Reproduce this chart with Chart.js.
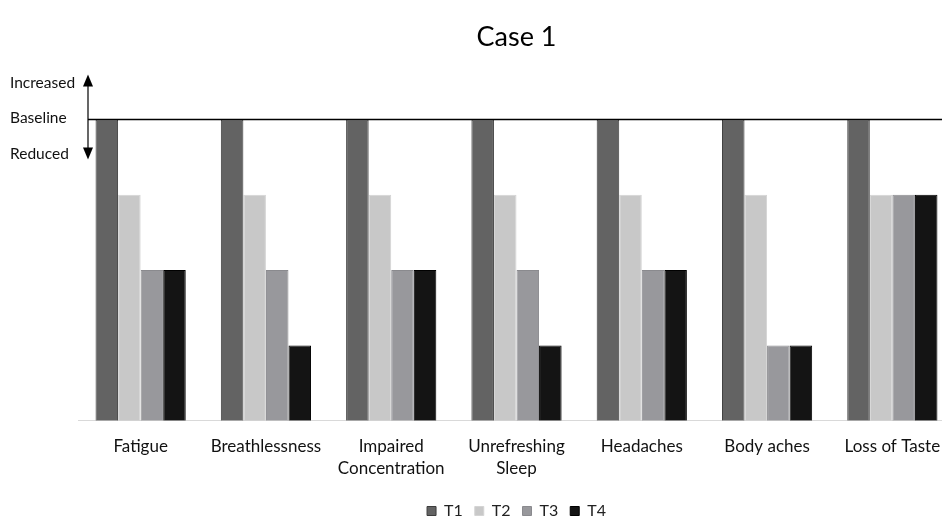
<!DOCTYPE html>
<html>
<head>
<meta charset="utf-8">
<script src="https://cdn.jsdelivr.net/npm/chart.js@4.4.0/dist/chart.umd.min.js"></script>
<style>
  html, body { margin: 0; padding: 0; background: #fff; overflow: hidden; }
  #wrap { width: 955px; height: 529px; }
</style>
</head>
<body>
<div id="wrap"><canvas id="caseChart"></canvas></div>
<script>
// symptom categories (level 4 = baseline, lower = reduced)
var symptoms = ["Fatigue", "Breathlessness", ["Impaired", "Concentration"], ["Unrefreshing", "Sleep"], "Headaches", "Body aches", "Loss of Taste"];
var t1 = [4, 4, 4, 4, 4, 4, 4];
var t2 = [3, 3, 3, 3, 3, 3, 3];
var t3 = [2, 2, 2, 2, 2, 1, 3];
var t4 = [2, 1, 2, 1, 2, 1, 3];
var baselineLevel = 4;

var fontName = "Lato, 'Open Sans', sans-serif";

// baseline line + increased/reduced arrow on the left
const baselinePlugin = {
  id: "baseline",
  afterDraw(chart) {
    const ctx = chart.ctx;
    const y = chart.scales.y.getPixelForValue(baselineLevel);
    const ax = 88;
    ctx.save();
    ctx.strokeStyle = "#000";
    ctx.lineWidth = 1.5;
    ctx.beginPath();
    ctx.moveTo(ax, y);
    ctx.lineTo(chart.chartArea.right, y);
    ctx.stroke();

    ctx.lineWidth = 1.2;
    ctx.beginPath();
    ctx.moveTo(ax, y - 36);
    ctx.lineTo(ax, y + 30);
    ctx.stroke();
    ctx.fillStyle = "#000";
    ctx.beginPath();
    ctx.moveTo(ax, y - 45);
    ctx.lineTo(ax - 5, y - 33);
    ctx.lineTo(ax + 5, y - 33);
    ctx.closePath();
    ctx.fill();
    ctx.beginPath();
    ctx.moveTo(ax, y + 40);
    ctx.lineTo(ax - 5, y + 28);
    ctx.lineTo(ax + 5, y + 28);
    ctx.closePath();
    ctx.fill();

    ctx.font = "15.5px " + fontName;
    ctx.textAlign = "left";
    ctx.textBaseline = "middle";
    ctx.fillStyle = "#111";
    ctx.fillText("Increased", 10, y - 36);
    ctx.fillText("Baseline", 10, y - 1);
    ctx.fillText("Reduced", 10, y + 35);
    ctx.restore();
  }
};

new Chart("caseChart", {
  type: "bar",
  data: {
    labels: symptoms,
    datasets: [
      { label: "T1", data: t1, backgroundColor: "#636363", borderColor: "#3c3c3c", borderWidth: 1 },
      { label: "T2", data: t2, backgroundColor: "#c8c8c8", borderColor: "#d4d4d4", borderWidth: 1 },
      { label: "T3", data: t3, backgroundColor: "#98989c", borderColor: "#8a8a8e", borderWidth: 1 },
      { label: "T4", data: t4, backgroundColor: "#141414", borderColor: "#000000", borderWidth: 1 }
    ]
  },
  options: {
    responsive: true,
    maintainAspectRatio: false,
    animation: false,
    layout: { padding: { left: 78, right: 0, top: 0, bottom: 0 } },
    categoryPercentage: 0.72,
    barPercentage: 1.0,
    plugins: {
      title: {
        display: true,
        text: "Case 1",
        color: "#000",
        font: { family: fontName, size: 27, weight: "normal" },
        padding: { top: 21, bottom: 66 }
      },
      legend: {
        position: "bottom",
        labels: {
          color: "#222",
          font: { family: fontName, size: 16 },
          boxWidth: 9,
          boxHeight: 9,
          padding: 12
        }
      },
      tooltip: { enabled: false }
    },
    scales: {
      x: {
        grid: { display: false },
        border: { display: true, color: "#d9d9d9", width: 1 },
        ticks: { color: "#111", font: { family: fontName, size: 17, lineHeight: 1.3 }, maxRotation: 0, padding: 7 },
        afterFit(scale) { scale.height += 4; }
      },
      y: {
        display: false,
        min: 0,
        max: 4
      }
    }
  },
  plugins: [baselinePlugin]
});
</script>
</body>
</html>
